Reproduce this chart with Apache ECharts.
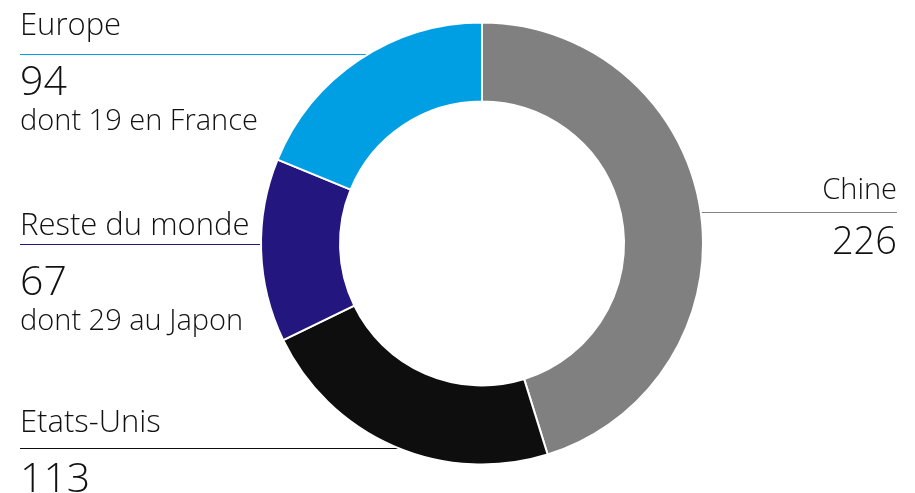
<!DOCTYPE html>
<html>
<head>
<meta charset="utf-8">
<script src="https://cdn.jsdelivr.net/npm/echarts@6/dist/echarts.min.js"></script>
<style>
html,body{margin:0;padding:0;background:#fff;}
#chart{width:915px;height:493px;}
</style>
</head>
<body>
<div id="chart"></div>
<script>
const categories = ['Chine', 'Etats-Unis', 'Reste du monde', 'Europe'];
const values = [226, 113, 67, 94];
const details = ['', '', 'dont 29 au Japon', 'dont 19 en France'];
const colors = ['#808080', '#0e0e0e', '#23177f', '#009fe3'];

const CX = 482, CY = 243.5, R_IN = 142, R_OUT = 221;
// label layout (positions only)
const layouts = [
  { x: 897, align: 'right', top: 158, lineY: 212.5, side: 1, inset: 0 },
  { x: 20, align: 'left', top: 388.5, lineY: 448.5, side: -1, inset: 0 },
  { x: 20, align: 'left', top: 191, lineY: 244.5, side: -1, inset: 26 },
  { x: 20, align: 'left', top: -9, lineY: 54.5, side: -1, inset: 0 }
];

const FONT = '"Open Sans"';
const W = 300;
const chart = echarts.init(document.getElementById('chart'), null, { renderer: 'canvas' });
chart.setOption({
  animation: false,
  backgroundColor: '#ffffff',
  series: [{
    type: 'pie',
    center: [CX, CY],
    radius: [R_IN, R_OUT],
    startAngle: 90,
    clockwise: true,
    avoidLabelOverlap: false,
    itemStyle: { borderColor: '#ffffff', borderWidth: 2 },
    emphasis: { disabled: true },
    data: categories.map((c, i) => ({ name: c, value: values[i], itemStyle: { color: colors[i] } })),
    label: {
      show: true,
      position: 'outside',
      color: '#111111',
      fontFamily: FONT,
      fontWeight: W,
      formatter: function (p) {
        const i = p.dataIndex;
        if (i === 0) return '{nr|' + p.name + '}\n{vr|' + p.value + '}';
        let s = '{n|' + p.name + '}\n{v|' + p.value + '}';
        if (details[i]) s += '\n{s|' + details[i] + '}';
        return s;
      },
      rich: {
        n: { fontFamily: FONT, fontWeight: W, fontSize: 31, lineHeight: 70, color: '#111' },
        v: { fontFamily: FONT, fontWeight: W, fontSize: 41, lineHeight: 44, color: '#111' },
        s: { fontFamily: FONT, fontWeight: W, fontSize: 29, lineHeight: 34, color: '#111' },
        nr: { fontFamily: FONT, fontWeight: W, fontSize: 29, lineHeight: 65, color: '#111', align: 'right' },
        vr: { fontFamily: FONT, fontWeight: W, fontSize: 38, lineHeight: 40, color: '#111', align: 'right' }
      }
    },
    labelLine: { show: true, smooth: false, length: 5, length2: 5, lineStyle: { width: 1 } },
    labelLayout: function (params) {
      const L = layouts[params.dataIndex];
      const dy = L.lineY - CY;
      const ringX = CX + L.side * Math.sqrt(Math.max(0, R_OUT * R_OUT - dy * dy)) - L.side * L.inset;
      return {
        x: L.x,
        y: L.top,
        align: L.align,
        verticalAlign: 'top',
        labelLinePoints: [[ringX, L.lineY], [ringX, L.lineY], [L.x, L.lineY]]
      };
    }
  }]
});
</script>
</body>
</html>
